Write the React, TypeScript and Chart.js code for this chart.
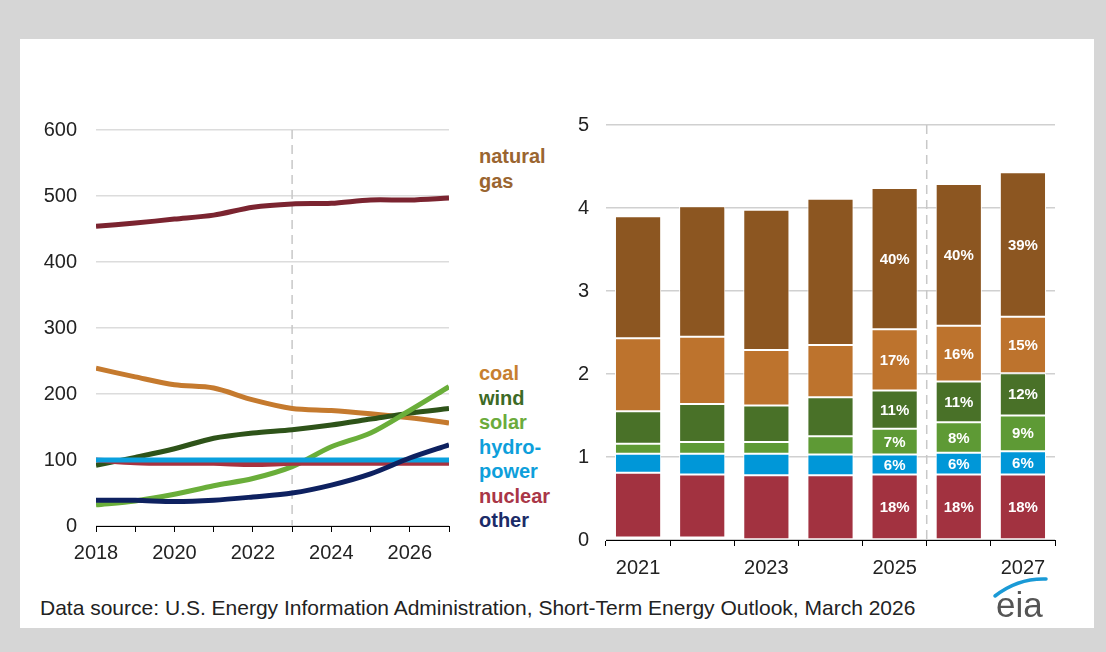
import React, { useEffect, useRef } from 'react';
import { Chart, registerables } from 'chart.js';

Chart.register(...registerables);

// ---------- Left chart: capacity (lines) ----------
const capYears = [2018, 2019, 2020, 2021, 2022, 2023, 2024, 2025, 2026, 2027];
const gasCap = [454, 459, 465, 471, 483, 488, 489, 494, 494, 497];
const coalCap = [239, 226, 214, 209, 191, 178, 175, 170, 164, 156];
const windCap = [92, 104, 117, 133, 141, 146, 153, 162, 171, 178];
const solarCap = [32, 38, 48, 61, 72, 90, 120, 141, 175, 211];
const hydroCap = [100, 100, 100, 100, 100, 100, 100, 100, 100, 100];
const nuclearCap = [100, 96, 95, 95, 93, 95, 95, 95, 95, 95];
const otherCap = [39, 39, 37, 39, 44, 50, 62, 79, 103, 123];
const capTicks = [0, 100, 200, 300, 400, 500, 600];

// ---------- Right chart: generation (stacked bars) ----------
const genYears = ['2021', '2022', '2023', '2024', '2025', '2026', '2027'];
const otherGen = [0.03, 0.03, 0.01, 0.01, 0.01, 0.01, 0.01];
const nuclearGen = [0.78, 0.76, 0.77, 0.77, 0.78, 0.78, 0.78];
const hydroGen = [0.23, 0.25, 0.26, 0.25, 0.24, 0.26, 0.28];
const solarGen = [0.12, 0.14, 0.14, 0.22, 0.31, 0.37, 0.43];
const windGen = [0.39, 0.46, 0.44, 0.47, 0.46, 0.49, 0.51];
const coalGen = [0.88, 0.81, 0.67, 0.63, 0.74, 0.67, 0.68];
const gasGen = [1.47, 1.57, 1.69, 1.76, 1.70, 1.71, 1.74];

const nuclearPct = ['', '', '', '', '18%', '18%', '18%'];
const hydroPct = ['', '', '', '', '6%', '6%', '6%'];
const solarPct = ['', '', '', '', '7%', '8%', '9%'];
const windPct = ['', '', '', '', '11%', '11%', '12%'];
const coalPct = ['', '', '', '', '17%', '16%', '15%'];
const gasPct = ['', '', '', '', '40%', '40%', '39%'];

const legendNames = ['natural\ngas', 'coal', 'wind', 'solar', 'hydro-\npower', 'nuclear', 'other'];
const legendColors = ['#9A6530', '#C77F30', '#3D6A25', '#6BAB3C', '#0E9FDB', '#A93647', '#1B2B68'];

const sourceText = 'Data source: U.S. Energy Information Administration, Short-Term Energy Outlook, March 2026';

const FONT = '"Liberation Sans", Arial, sans-serif';

const toPts = (vals: number[]) => vals.map((v, i) => ({ x: capYears[i], y: v }));

export default function App() {
  const leftRef = useRef<HTMLCanvasElement>(null);
  const rightRef = useRef<HTMLCanvasElement>(null);

  useEffect(() => {
    const dashLeft = {
      id: 'dashLeft',
      beforeDatasetsDraw(chart: any) {
        const { ctx, chartArea } = chart;
        const x = chart.scales.x.getPixelForValue(2023);
        ctx.save();
        ctx.strokeStyle = '#c8c8c8';
        ctx.lineWidth = 1.5;
        ctx.setLineDash([9, 6]);
        ctx.beginPath();
        ctx.moveTo(x, chartArea.top);
        ctx.lineTo(x, chartArea.bottom);
        ctx.stroke();
        ctx.restore();
      },
    };

    const lineDs = (data: number[], color: string) => ({
      data: toPts(data),
      borderColor: color,
      backgroundColor: color,
      borderWidth: 5,
      pointRadius: 0,
      tension: 0.3,
      fill: false,
    });

    const left = new Chart(leftRef.current!, {
      type: 'line',
      data: {
        datasets: [
          lineDs(otherCap, '#0E2160'),
          lineDs(hydroCap, '#0AA0DE'),
          lineDs(nuclearCap, '#A8323F'),
          lineDs(solarCap, '#6AAE3A'),
          lineDs(windCap, '#2E5319'),
          lineDs(coalCap, '#C57A2E'),
          lineDs(gasCap, '#7B2430'),
        ],
      },
      options: {
        animation: false,
        responsive: true,
        maintainAspectRatio: false,
        layout: { padding: { top: 20, right: 11, left: 0, bottom: 0 } },
        plugins: { legend: { display: false }, tooltip: { enabled: false } },
        scales: {
          x: {
            type: 'linear',
            min: 2018,
            max: 2027,
            afterFit: (s: any) => { s.height = 44; s.paddingLeft = 0; s.paddingRight = 0; },
            ticks: {
              stepSize: 1,
              autoSkip: false,
              maxRotation: 0,
              padding: 9,
              color: '#222',
              font: { family: FONT, size: 20 },
              callback: (v: any) => (Number(v) % 2 === 0 ? String(v) : ''),
            },
            grid: { drawOnChartArea: false, drawTicks: true, tickLength: 6, tickColor: '#000', lineWidth: 1 },
            border: { display: true, color: '#000', width: 1 },
          },
          y: {
            min: 0,
            max: 600,
            afterFit: (s: any) => { s.width = 66; s.paddingTop = 0; s.paddingBottom = 0; },
            afterBuildTicks: (s: any) => { s.ticks = capTicks.map((v) => ({ value: v })); },
            ticks: {
              padding: 19,
              color: '#222',
              font: { family: FONT, size: 20 },
              callback: (v: any) => String(v),
            },
            grid: { color: '#dcdcdc', lineWidth: 1.5, drawTicks: false },
            border: { display: false },
          },
        },
      },
      plugins: [dashLeft],
    } as any);

    const pctLists = [null, nuclearPct, hydroPct, solarPct, windPct, coalPct, gasPct];

    const pctPlugin = {
      id: 'pct',
      afterDatasetsDraw(chart: any) {
        const { ctx } = chart;
        ctx.save();
        ctx.fillStyle = '#fff';
        ctx.font = 'bold 15px ' + FONT;
        ctx.textAlign = 'center';
        ctx.textBaseline = 'middle';
        chart.data.datasets.forEach((_: any, i: number) => {
          const labels = pctLists[i];
          if (!labels) return;
          const meta = chart.getDatasetMeta(i);
          meta.data.forEach((el: any, j: number) => {
            const t = labels[j];
            if (!t) return;
            const p = el.getProps(['x', 'y', 'base'], true);
            ctx.fillText(t, p.x, (p.y + p.base) / 2 + 1);
          });
        });
        ctx.restore();
      },
    };

    const dashRight = {
      id: 'dashRight',
      beforeDatasetsDraw(chart: any) {
        const { ctx, chartArea } = chart;
        const sx = chart.scales.x;
        const x = (sx.getPixelForValue(4) + sx.getPixelForValue(5)) / 2;
        ctx.save();
        ctx.strokeStyle = '#c8c8c8';
        ctx.lineWidth = 1.5;
        ctx.setLineDash([9, 6]);
        ctx.beginPath();
        ctx.moveTo(x, chartArea.top);
        ctx.lineTo(x, chartArea.bottom);
        ctx.stroke();
        ctx.restore();
      },
    };

    const barDs = (data: number[], color: string) => ({
      data,
      backgroundColor: color,
      borderColor: '#ffffff',
      borderWidth: 1,
      borderSkipped: false,
      categoryPercentage: 1,
      barPercentage: 0.72,
    });

    const right = new Chart(rightRef.current!, {
      type: 'bar',
      data: {
        labels: genYears,
        datasets: [
          barDs(otherGen, '#0B1F5C'),
          barDs(nuclearGen, '#A23240'),
          barDs(hydroGen, '#0097D8'),
          barDs(solarGen, '#5E9A35'),
          barDs(windGen, '#497128'),
          barDs(coalGen, '#BD732D'),
          barDs(gasGen, '#8C5621'),
        ],
      },
      options: {
        animation: false,
        responsive: true,
        maintainAspectRatio: false,
        layout: { padding: { top: 20, right: 15, left: 0, bottom: 0 } },
        plugins: { legend: { display: false }, tooltip: { enabled: false } },
        scales: {
          x: {
            stacked: true,
            afterFit: (s: any) => { s.height = 35; s.paddingLeft = 0; s.paddingRight = 0; },
            ticks: {
              autoSkip: false,
              maxRotation: 0,
              padding: 10,
              color: '#222',
              font: { family: FONT, size: 20 },
              callback: (_: any, i: number) => (i % 2 === 0 ? genYears[i] : ''),
            },
            grid: { offset: true, drawOnChartArea: false, drawTicks: true, tickLength: 6, tickColor: '#000', lineWidth: 1 },
            border: { display: true, color: '#000', width: 1 },
          },
          y: {
            stacked: true,
            min: 0,
            max: 5,
            afterFit: (s: any) => { s.width = 46; s.paddingTop = 0; s.paddingBottom = 0; },
            ticks: {
              stepSize: 1,
              padding: 17,
              color: '#222',
              font: { family: FONT, size: 20 },
            },
            grid: { color: '#d0d0d0', lineWidth: 1.5, drawTicks: false },
            border: { display: false },
          },
        },
      },
      plugins: [dashRight, pctPlugin],
    } as any);

    return () => {
      left.destroy();
      right.destroy();
    };
  }, []);

  const legendTops = [144, 361, 385.5, 410, 434.5, 483.5, 508];

  return (
    <div
      style={{
        position: 'fixed',
        left: 0,
        top: 0,
        width: 1106,
        height: 652,
        background: '#d6d6d6',
        overflow: 'hidden',
        fontFamily: FONT,
      }}
    >
      <div style={{ position: 'absolute', left: 20, top: 39, width: 1074, height: 589, background: '#fff' }} />
      <div style={{ position: 'absolute', left: 30, top: 110, width: 430, height: 460 }}>
        <canvas ref={leftRef} />
      </div>
      <div style={{ position: 'absolute', left: 560, top: 105, width: 510, height: 470 }}>
        <canvas ref={rightRef} />
      </div>
      {legendNames.map((name, i) => (
        <div
          key={name}
          style={{
            position: 'absolute',
            left: 479,
            top: legendTops[i],
            color: legendColors[i],
            fontWeight: 'bold',
            fontSize: 20,
            lineHeight: '24.5px',
            whiteSpace: 'pre',
          }}
        >
          {name}
        </div>
      ))}
      <div
        style={{
          position: 'absolute',
          left: 40,
          top: 596,
          fontSize: 21,
          lineHeight: '24px',
          color: '#222',
          whiteSpace: 'nowrap',
        }}
      >
        {sourceText}
      </div>
      <svg style={{ position: 'absolute', left: 988, top: 568, width: 64, height: 32 }} viewBox="0 0 64 32">
        <path d="M7 28 Q 30 10 58 11" stroke="#1a9ad6" strokeWidth="3.5" fill="none" strokeLinecap="round" />
      </svg>
      <div
        style={{
          position: 'absolute',
          left: 996,
          top: 587,
          fontSize: 35,
          lineHeight: '36px',
          color: '#555',
        }}
      >
        eia
      </div>
    </div>
  );
}
